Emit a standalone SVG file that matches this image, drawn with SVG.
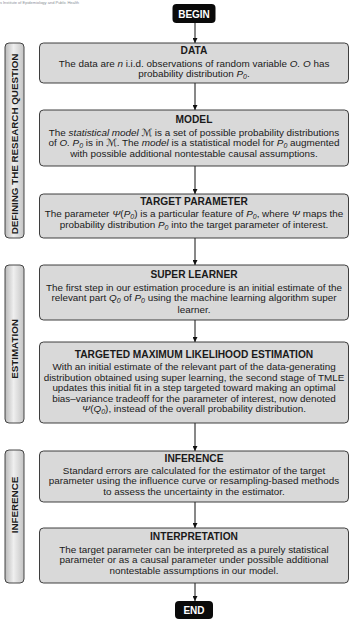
<svg xmlns="http://www.w3.org/2000/svg" width="350" height="620" viewBox="0 0 350 620">
<defs>
<linearGradient id="bar" x1="0" y1="0" x2="1" y2="0">
<stop offset="0" stop-color="#b9b9b9"/>
<stop offset="0.45" stop-color="#efefef"/>
<stop offset="1" stop-color="#c4c4c4"/>
</linearGradient>
<marker id="ah" viewBox="0 0 10 10" refX="10" refY="5" markerWidth="5" markerHeight="5" markerUnits="userSpaceOnUse" orient="auto">
<path d="M0,0 L10,5 L0,10 z" fill="#111"/>
</marker>
<style>
text{font-family:"Liberation Sans",Arial,sans-serif;fill:#1a1a1a}
.box{fill:#d9d9d9;stroke:#2a2a2a;stroke-width:0.9}
.term{fill:#0a0a0a;stroke:none}
.termt{font-size:10px;font-weight:bold;fill:#fff;text-anchor:middle}
.t{font-size:10.2px;font-weight:bold;text-anchor:middle}
.b{font-size:9.9px;text-anchor:middle}
.i{font-style:italic}
.m{font-family:"DejaVu Serif","DejaVu Sans",serif;font-style:italic}
.s{font-size:7px;font-style:italic}
.bar{fill:url(#bar);stroke:#333;stroke-width:0.9}
.bt{font-size:9.8px;font-weight:bold;text-anchor:middle}
.con{stroke:#111;stroke-width:1;fill:none;marker-end:url(#ah)}
</style>
</defs>
<rect width="350" height="620" fill="#fff"/>
<text x="-1" y="4" style="font-size:4px;fill:#8a8f99">is Institute of Epidemiology and Public Health</text>

<g id="side-defining">
<rect class="bar" x="5" y="43" width="19" height="195" rx="4"/>
<text class="bt" transform="translate(18,144) rotate(-90)">DEFINING THE RESEARCH QUESTION</text>
</g>
<g id="side-estimation">
<rect class="bar" x="5" y="265" width="19" height="158" rx="4"/>
<text class="bt" transform="translate(18,349) rotate(-90)">ESTIMATION</text>
</g>
<g id="side-inference">
<rect class="bar" x="5" y="450" width="19" height="133" rx="4"/>
<text class="bt" transform="translate(18,505) rotate(-90)">INFERENCE</text>
</g>

<g id="connectors">
<line class="con" x1="195" y1="23" x2="195" y2="43"/>
<line class="con" x1="195" y1="83" x2="195" y2="110"/>
<line class="con" x1="195" y1="166" x2="195" y2="194"/>
<line class="con" x1="195" y1="238" x2="195" y2="265"/>
<line class="con" x1="195" y1="320" x2="195" y2="342"/>
<line class="con" x1="195" y1="423" x2="195" y2="451"/>
<line class="con" x1="195" y1="502" x2="195" y2="528"/>
<line class="con" x1="195" y1="583" x2="195" y2="601"/>
</g>

<g id="begin">
<rect class="term" x="172.5" y="4" width="43" height="19" rx="4"/>
<text class="termt" x="194" y="17.5">BEGIN</text>
</g>

<g id="data">
<rect class="box" x="39.5" y="43" width="309" height="40" rx="4"/>
<text class="t" x="194" y="54">DATA</text>
<text class="b" x="194" y="66.5">The data are <tspan class="i">n</tspan> i.i.d. observations of random variable <tspan class="i">O. O</tspan> has</text>
<text class="b" x="194" y="77">probability distribution <tspan class="i">P</tspan><tspan class="s" dy="2">0</tspan><tspan dy="-2">.</tspan></text>
</g>

<g id="model">
<rect class="box" x="39.5" y="110" width="309" height="56" rx="4"/>
<text class="t" x="194" y="122.5">MODEL</text>
<text class="b" x="194" y="135.5">The <tspan class="i">statistical model</tspan> <tspan class="m">ℳ</tspan> is a set of possible probability distributions</text>
<text class="b" x="194" y="146">of <tspan class="i">O. P</tspan><tspan class="s" dy="2">0</tspan><tspan dy="-2"> is in </tspan><tspan class="m">ℳ</tspan>. The <tspan class="i">model</tspan> is a statistical model for <tspan class="i">P</tspan><tspan class="s" dy="2">0</tspan><tspan dy="-2"> augmented</tspan></text>
<text class="b" x="194" y="156.5">with possible additional nontestable causal assumptions.</text>
</g>

<g id="target-parameter">
<rect class="box" x="39.5" y="194" width="309" height="44" rx="4"/>
<text class="t" x="194" y="204.5">TARGET PARAMETER</text>
<text class="b" x="194" y="217">The parameter <tspan class="i">Ψ</tspan>(<tspan class="i">P</tspan><tspan class="s" dy="2">0</tspan><tspan dy="-2">) is a particular feature of </tspan><tspan class="i">P</tspan><tspan class="s" dy="2">0</tspan><tspan dy="-2">, where </tspan><tspan class="i">Ψ</tspan> maps the</text>
<text class="b" x="194" y="228">probability distribution <tspan class="i">P</tspan><tspan class="s" dy="2">0</tspan><tspan dy="-2"> into the target parameter of interest.</tspan></text>
</g>

<g id="super-learner">
<rect class="box" x="39.5" y="265" width="309" height="55" rx="4"/>
<text class="t" x="194" y="277.5">SUPER LEARNER</text>
<text class="b" x="194" y="290.5">The first step in our estimation procedure is an initial estimate of the</text>
<text class="b" x="194" y="301">relevant part <tspan class="i">Q</tspan><tspan class="s" dy="2">0</tspan><tspan dy="-2"> of </tspan><tspan class="i">P</tspan><tspan class="s" dy="2">0</tspan><tspan dy="-2">  using the machine learning algorithm super</tspan></text>
<text class="b" x="194" y="312.5">learner.</text>
</g>

<g id="tmle">
<rect class="box" x="39.5" y="342" width="309" height="81" rx="4"/>
<text class="t" x="194" y="357.5">TARGETED MAXIMUM LIKELIHOOD ESTIMATION</text>
<text class="b" x="194" y="370">With an initial estimate of the relevant part of the data-generating</text>
<text class="b" x="194" y="380.5">distribution obtained using super learning, the second stage of TMLE</text>
<text class="b" x="194" y="391">updates this initial fit in a step targeted toward making an optimal</text>
<text class="b" x="194" y="401.5">bias–variance tradeoff for the parameter of interest, now denoted</text>
<text class="b" x="194" y="412"><tspan class="i">Ψ</tspan>(<tspan class="i">Q</tspan><tspan class="s" dy="2">0</tspan><tspan dy="-2">), instead of the overall probability distribution.</tspan></text>
</g>

<g id="inference">
<rect class="box" x="39.5" y="451" width="309" height="51" rx="4"/>
<text class="t" x="194" y="461.5">INFERENCE</text>
<text class="b" x="194" y="473.5">Standard errors are calculated for the estimator of the target</text>
<text class="b" x="194" y="484">parameter using the influence curve or resampling-based methods</text>
<text class="b" x="194" y="494.5">to assess the uncertainty in the estimator.</text>
</g>

<g id="interpretation">
<rect class="box" x="39.5" y="528" width="309" height="55" rx="4"/>
<text class="t" x="194" y="539.5">INTERPRETATION</text>
<text class="b" x="194" y="552.5">The target parameter can be interpreted as a purely statistical</text>
<text class="b" x="194" y="563">parameter or as a causal parameter under possible additional</text>
<text class="b" x="194" y="573.5">nontestable assumptions in our model.</text>
</g>

<g id="end">
<rect class="term" x="175" y="601" width="38" height="18" rx="4"/>
<text class="termt" x="194" y="613.5">END</text>
</g>
</svg>
